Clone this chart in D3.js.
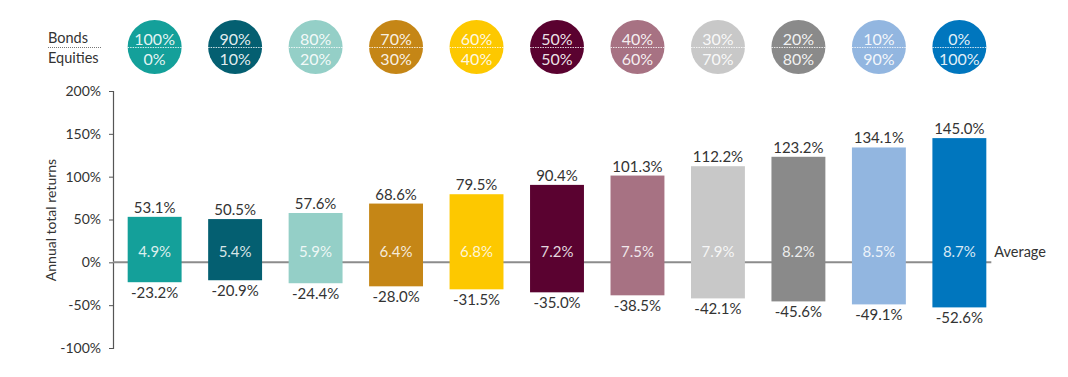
<!DOCTYPE html>
<html>
<head>
<meta charset="utf-8">
<script src="https://cdn.jsdelivr.net/npm/d3@7"></script>
<style>
  body { margin: 0; background: #fff; }
  text { font-family: Lato, "Noto Sans", sans-serif; }
</style>
</head>
<body>
<script>
var bonds = ["100%", "90%", "80%", "70%", "60%", "50%", "40%", "30%", "20%", "10%", "0%"];
var equities = ["0%", "10%", "20%", "30%", "40%", "50%", "60%", "70%", "80%", "90%", "100%"];
var best = [53.1, 50.5, 57.6, 68.6, 79.5, 90.4, 101.3, 112.2, 123.2, 134.1, 145.0];
var worst = [-23.2, -20.9, -24.4, -28.0, -31.5, -35.0, -38.5, -42.1, -45.6, -49.1, -52.6];
var average = [4.9, 5.4, 5.9, 6.4, 6.8, 7.2, 7.5, 7.9, 8.2, 8.5, 8.7];
var colors = ["#14a09a", "#045f71", "#94cfc7", "#c58616", "#fdc800", "#5a0230", "#a77283", "#c8c8c8", "#8a8a8a", "#92b6e0", "#0076be"];
var yTicks = [200, 150, 100, 50, 0, -50, -100];

var width = 1068, height = 377;
var svg = d3.select("body")
    .append("svg")
    .attr("width", width)
    .attr("height", height);

var keys = d3.range(bonds.length);
var x = d3.scaleBand()
    .domain(keys)
    .range([114, 1000])
    .paddingInner(0.33)
    .paddingOuter(0.17);
var y = d3.scaleLinear()
    .domain([-100, 200])
    .range([348, 91]);

// y axis
var axis = svg.append("g")
    .attr("transform", "translate(113,0)")
    .call(d3.axisLeft(y).tickValues(yTicks).tickSize(4).tickPadding(8).tickFormat(function (d) { return d + "%"; }));
axis.select(".domain").attr("stroke", "#555").attr("stroke-width", 1.2);
axis.selectAll(".tick line").attr("stroke", "#555");
axis.selectAll(".tick text")
    .attr("fill", "#333")
    .style("font-size", "14px")
    .style("font-family", "Lato, 'Noto Sans', sans-serif");

svg.append("text")
    .attr("transform", "translate(56,220) rotate(-90)")
    .attr("text-anchor", "middle")
    .attr("fill", "#333")
    .style("font-size", "14px")
    .text("Annual total returns");

// zero line
svg.append("line")
    .attr("x1", 113)
    .attr("x2", x(keys.length - 1) + x.bandwidth() + 5)
    .attr("y1", y(0))
    .attr("y2", y(0))
    .style("stroke", "#8c8c8c")
    .style("stroke-width", 2);

// bars
svg.selectAll("rect.bar")
    .data(keys)
    .enter()
    .append("rect")
    .attr("class", "bar")
    .attr("x", function (d) { return x(d); })
    .attr("y", function (d) { return y(best[d]); })
    .attr("width", x.bandwidth())
    .attr("height", function (d) { return y(worst[d]) - y(best[d]); })
    .style("fill", function (d) { return colors[d]; });

svg.selectAll("text.best")
    .data(keys)
    .enter()
    .append("text")
    .attr("class", "best")
    .attr("x", function (d) { return x(d) + x.bandwidth() / 2; })
    .attr("y", function (d) { return y(best[d]) - 4; })
    .attr("text-anchor", "middle")
    .attr("fill", "#333")
    .style("font-size", "15px")
    .text(function (d) { return best[d].toFixed(1) + "%"; });

svg.selectAll("text.worst")
    .data(keys)
    .enter()
    .append("text")
    .attr("class", "worst")
    .attr("x", function (d) { return x(d) + x.bandwidth() / 2; })
    .attr("y", function (d) { return y(worst[d]) + 16; })
    .attr("text-anchor", "middle")
    .attr("fill", "#333")
    .style("font-size", "15px")
    .text(function (d) { return worst[d].toFixed(1) + "%"; });

svg.selectAll("text.avg")
    .data(keys)
    .enter()
    .append("text")
    .attr("class", "avg")
    .attr("x", function (d) { return x(d) + x.bandwidth() / 2; })
    .attr("y", y(0) - 5)
    .attr("text-anchor", "middle")
    .attr("fill", "#fff")
    .attr("fill-opacity", 0.85)
    .style("font-size", "15px")
    .text(function (d) { return average[d].toFixed(1) + "%"; });

svg.append("text")
    .attr("x", x(keys.length - 1) + x.bandwidth() + 8)
    .attr("y", y(0) - 5)
    .attr("fill", "#333")
    .style("font-size", "14.5px")
    .text("Average");

// allocation circles
var circ = svg.selectAll("g.alloc")
    .data(keys)
    .enter()
    .append("g")
    .attr("class", "alloc")
    .attr("transform", function (d) { return "translate(" + (x(d) + x.bandwidth() / 2) + ",47)"; });
circ.append("circle")
    .attr("r", 27)
    .style("fill", function (d) { return colors[d]; });
circ.append("line")
    .attr("x1", -27).attr("x2", 27)
    .attr("y1", 0.5).attr("y2", 0.5)
    .style("stroke", "#fff")
    .style("stroke-opacity", 0.8)
    .style("stroke-dasharray", "1.5,1");
circ.append("text")
    .attr("y", -2.5)
    .attr("text-anchor", "middle")
    .attr("fill", "#fff")
    .attr("fill-opacity", 0.9)
    .style("font-size", "16px")
    .text(function (d) { return bonds[d]; });
circ.append("text")
    .attr("y", 17.5)
    .attr("text-anchor", "middle")
    .attr("fill", "#fff")
    .attr("fill-opacity", 0.9)
    .style("font-size", "16px")
    .text(function (d) { return equities[d]; });

svg.append("text")
    .attr("x", 48).attr("y", 43)
    .attr("fill", "#333")
    .style("font-size", "14.5px")
    .text("Bonds");
svg.append("line")
    .attr("x1", 48).attr("x2", 101)
    .attr("y1", 47.5).attr("y2", 47.5)
    .style("stroke", "#777")
    .style("stroke-dasharray", "1,1");
svg.append("text")
    .attr("x", 48).attr("y", 63)
    .attr("fill", "#333")
    .style("font-size", "14.5px")
    .text("Equities");
</script>
</body>
</html>
